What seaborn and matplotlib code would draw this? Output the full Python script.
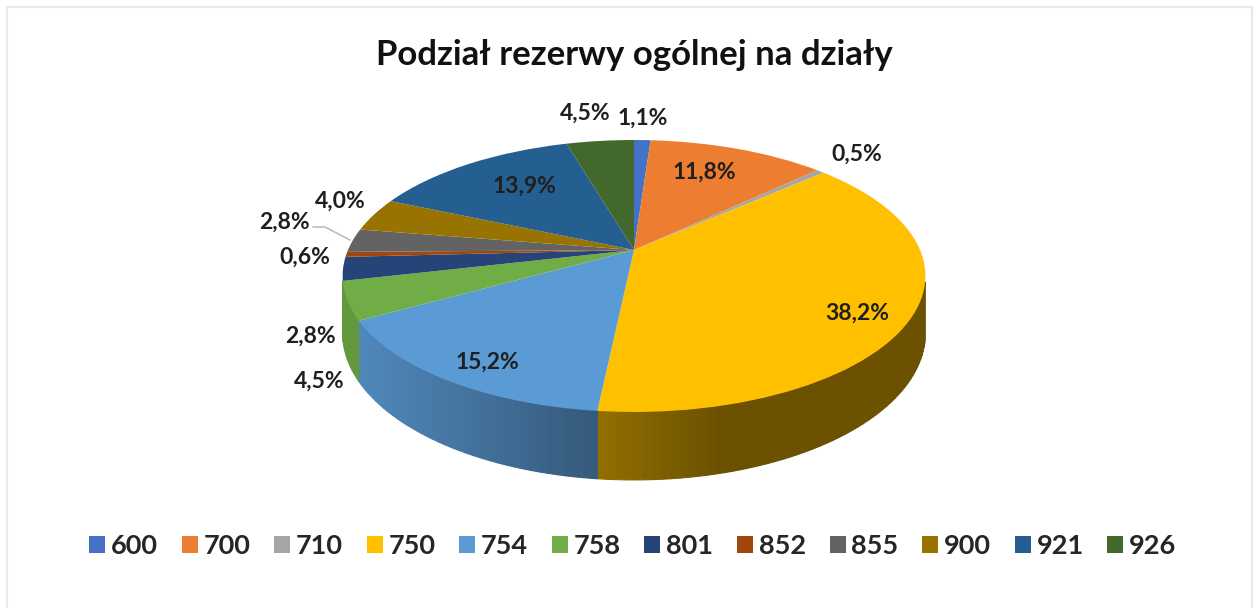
import numpy as np
import matplotlib
matplotlib.use("Agg")
import matplotlib.pyplot as plt
from matplotlib.transforms import Transform
import seaborn as sns

# ==================== data ====================
title = "Podział rezerwy ogólnej na działy"
departments = ["600", "700", "710", "750", "754", "758", "801", "852", "855", "900", "921", "926"]
shares = [1.1, 11.8, 0.5, 38.2, 15.2, 4.5, 2.8, 0.6, 2.8, 4.0, 13.9, 4.5]
colors = ["#4472c4", "#ed7d31", "#a5a5a5", "#ffc000", "#5b9bd5", "#70ad47",
          "#264478", "#9e480e", "#636363", "#997300", "#255e91", "#43682b"]
# label centres in picture pixels
label_x = [643, 704, 857, 857, 487, 319, 310, 305, 284, 340, 525, 585]
label_y = [118, 172, 154, 313, 362, 381, 336, 257, 222, 201, 186, 113]

# ==================== geometry of the tilted pie ====================
cx, cy = 634, 250
rx, ry = 286, 131
persp = 0.191
depth = 55


class TiltedPie(Transform):
    input_dims = 2
    output_dims = 2

    def transform_non_affine(self, xy):
        xy = np.asarray(xy, dtype=float)
        w = 1 + persp * xy[:, 1]
        return np.column_stack([cx + rx * xy[:, 0] / w, cy - ry * xy[:, 1] / w])


def rim(theta):
    # top and bottom edge of the side wall at angle theta (degrees)
    t = np.radians(theta)
    x, y = np.cos(t), np.sin(t)
    w = 1 + persp * y
    return cx + rx * x / w, cy - ry * y / w, cy - ry * y / w + depth / w


def wall_colour(base, x):
    # Excel style shading: light on the left, darkest towards the right
    rgb = np.array(matplotlib.colors.to_rgb(base))
    pos = np.clip((x - 360) / 360, 0, 1)
    return tuple(rgb * (0.88 - 0.46 * pos))


sns.set_theme(style="white")
plt.rcParams["font.family"] = ["Lato", "DejaVu Sans"]

fig, ax = plt.subplots(figsize=(12.6, 6.08), dpi=100)
fig.subplots_adjust(left=0, right=1, top=1, bottom=0)

wedges, _ = ax.pie(shares, colors=colors, startangle=90, counterclock=False,
                   wedgeprops={"linewidth": 0, "zorder": 3})
to_px = TiltedPie() + ax.transData
for w in wedges:
    w.set_transform(to_px)

ax.set_aspect("auto")
ax.set_xlim(0, 1260)
ax.set_ylim(608, 0)
ax.axis("off")

# side wall, cut in thin strips so the shading can change along it
for w, col in zip(wedges, colors):
    a0, a1 = w.theta1, w.theta2
    steps = np.arange(a0, a1, 1.5)
    for a, b in zip(steps, np.append(steps[1:], a1)):
        # only the part that faces the viewer
        if np.sin(np.radians((a + b) / 2)) > -persp - 0.034:
            continue
        xa, ta, ba = rim(a)
        xb, tb, bb = rim(b)
        c = wall_colour(col, (xa + xb) / 2)
        ax.fill([xa, xb, xb, xa], [ta, tb, bb, ba], color=c, lw=0.8, zorder=2)

# data labels
for v, x, y in zip(shares, label_x, label_y):
    txt = f"{v:.1f}%".replace(".", ",")
    ax.text(x, y, txt, ha="center", va="center", fontsize=16.5, fontweight="bold",
            color="#1f1f1f", zorder=5)

# leader line of the 855 label
ax.plot([313, 325, 350], [227, 227, 240], color="#bdbdbd", lw=1.2, zorder=4)

ax.text(634, 55, title, ha="center", va="center", fontsize=25, fontweight="bold", color="#111111")

ax.legend(wedges, departments, loc="center", bbox_to_anchor=(633, 546),
          bbox_transform=ax.transData, ncol=12, frameon=False,
          handlelength=0.59, handleheight=0.59, handletextpad=0.22, columnspacing=0.87,
          prop={"weight": "bold", "size": 19.5})

# light frame of the original picture
ax.plot([7, 7, 1252, 1252], [608, 7, 7, 608], color="#e8e8e8", lw=1.5, zorder=1)

fig.savefig("out.png", dpi=100, facecolor="white")
